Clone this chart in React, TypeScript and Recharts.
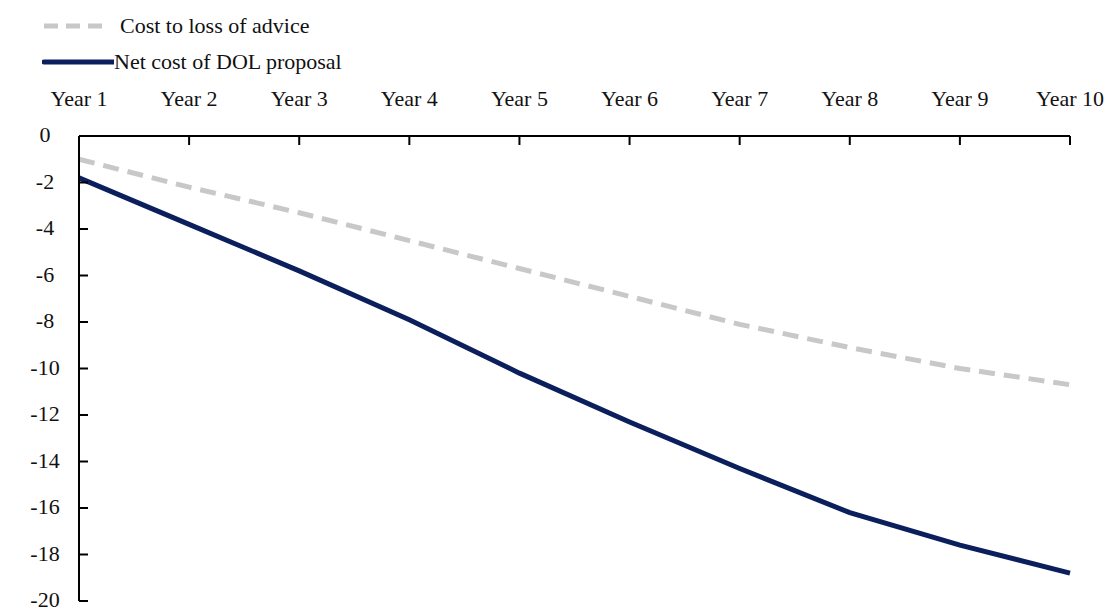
import { Line, LineChart, XAxis, YAxis } from 'recharts'

const years = ['Year 1', 'Year 2', 'Year 3', 'Year 4', 'Year 5', 'Year 6', 'Year 7', 'Year 8', 'Year 9', 'Year 10']
const lossOfAdvice = [-1.0, -2.2, -3.3, -4.5, -5.7, -6.9, -8.1, -9.1, -10.0, -10.7]
const netCost = [-1.8, -3.8, -5.8, -7.9, -10.2, -12.3, -14.3, -16.2, -17.6, -18.8]
const yTicks = [0, -2, -4, -6, -8, -10, -12, -14, -16, -18, -20]

const data = years.map((y, i) => ({ year: y, loss: lossOfAdvice[i], net: netCost[i] }))

const FONT = "'Liberation Serif', 'DejaVu Serif', 'Times New Roman', serif"
const AXIS_Y = 136
const AXIS_X = 79

const XTick = (p: any) => (
  <g>
    <text x={p.x} y={AXIS_Y - 30} textAnchor="middle" style={{ fontSize: 22, fontFamily: FONT }} fill="#111">
      {p.payload.value}
    </text>
    {p.index > 0 && <line x1={p.x} x2={p.x} y1={AXIS_Y} y2={AXIS_Y + 9} stroke="#000" strokeWidth={2} />}
  </g>
)

const YTick = (p: any) => (
  <g>
    <text x={45} y={p.y + 6} textAnchor="middle" style={{ fontSize: 22, fontFamily: FONT }} fill="#111">
      {p.payload.value}
    </text>
    {p.payload.value !== 0 && (
      <line x1={AXIS_X} x2={AXIS_X + 9} y1={p.y} y2={p.y} stroke="#000" strokeWidth={2} />
    )}
  </g>
)

export default function App() {
  return (
    <div style={{ position: 'absolute', left: 0, top: 0, width: 1115, height: 614, background: '#fff', fontFamily: FONT }}>
      <div style={{ position: 'absolute', left: 42, top: 8, fontSize: 22, color: '#111', lineHeight: '36px', fontFamily: FONT }}>
        <div style={{ display: 'flex', alignItems: 'center' }}>
          <svg width={70} height={10}>
            <line x1={2} x2={68} y1={5} y2={5} stroke="#c8c8c8" strokeWidth={5} strokeDasharray="14 8" />
          </svg>
          <span style={{ marginLeft: 8 }}>Cost to loss of advice</span>
        </div>
        <div style={{ display: 'flex', alignItems: 'center' }}>
          <svg width={72} height={10}>
            <line x1={2} x2={72} y1={5} y2={5} stroke="#0b1f5c" strokeWidth={5} strokeLinecap="round" />
          </svg>
          <span>Net cost of DOL proposal</span>
        </div>
      </div>
      <LineChart width={1115} height={614} data={data} margin={{ top: AXIS_Y - 60, right: 45, left: 0, bottom: 13 }}>
        <XAxis
          dataKey="year"
          orientation="top"
          height={60}
          interval={0}
          tickLine={false}
          axisLine={{ stroke: '#000', strokeWidth: 2 }}
          tick={<XTick />}
        />
        <YAxis
          width={AXIS_X}
          domain={[-20, 0]}
          ticks={yTicks}
          interval={0}
          tickLine={false}
          axisLine={{ stroke: '#000', strokeWidth: 2 }}
          tick={<YTick />}
        />
        <Line dataKey="loss" stroke="#c8c8c8" strokeWidth={5} strokeDasharray="16 9" dot={false} isAnimationActive={false} />
        <Line dataKey="net" stroke="#0b1f5c" strokeWidth={5} dot={false} isAnimationActive={false} />
      </LineChart>
    </div>
  )
}
